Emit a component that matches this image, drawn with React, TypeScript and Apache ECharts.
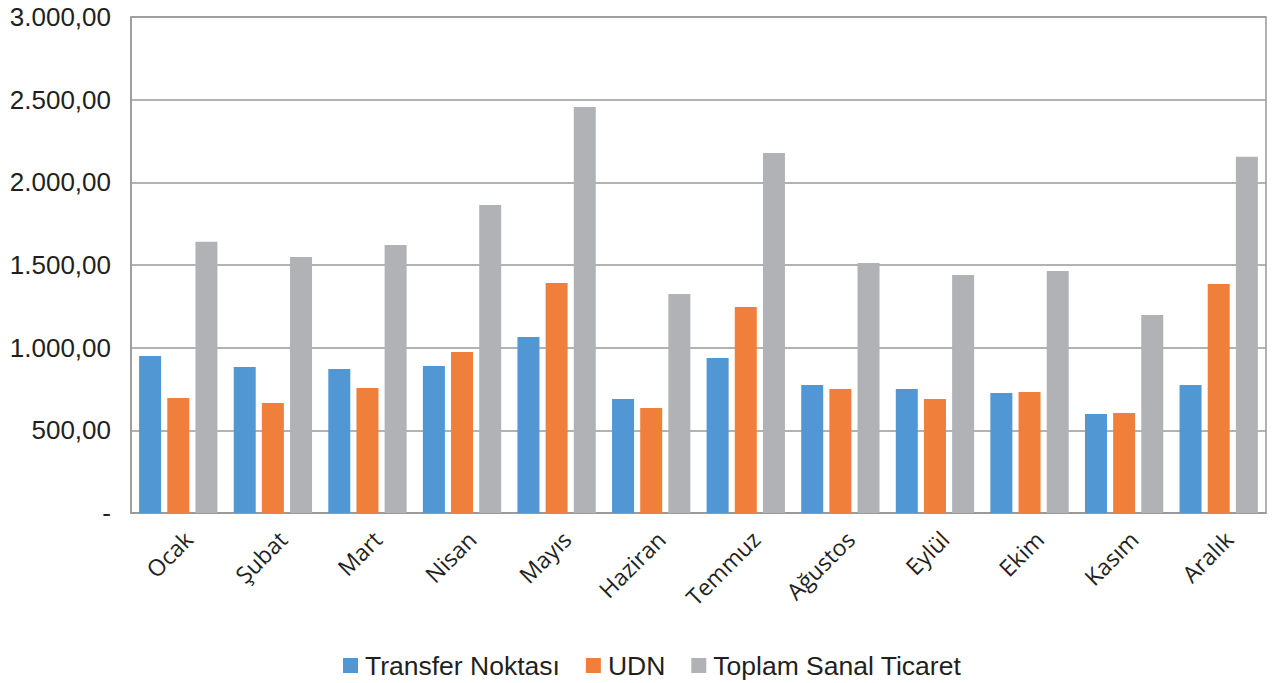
import React, { useEffect, useRef } from "react";
import * as echarts from "echarts";

const categories = ["Ocak", "Şubat", "Mart", "Nisan", "Mayıs", "Haziran", "Temmuz", "Ağustos", "Eylül", "Ekim", "Kasım", "Aralık"];
const transferNoktasi = [950, 883, 871, 889, 1065, 690, 938, 774, 750, 726, 599, 774];
const udn = [696, 665, 756, 974, 1391, 635, 1246, 750, 690, 732, 605, 1385];
const toplamSanalTicaret = [1640, 1549, 1621, 1863, 2456, 1325, 2178, 1512, 1440, 1464, 1198, 2154];
const seriesNames = ["Transfer Noktası", "UDN", "Toplam Sanal Ticaret"];
const colors = ["#5097d3", "#f07f3c", "#b1b2b5"];

function fmt(v: number): string {
  if (v === 0) return "-";
  const s = v.toFixed(2).split(".");
  const int = s[0].replace(/\B(?=(\d{3})+(?!\d))/g, ".");
  return int + "," + s[1];
}

export default function App() {
  const ref = useRef<HTMLDivElement>(null);
  useEffect(() => {
    if (!ref.current) return;
    const chart = echarts.init(ref.current, undefined, { renderer: "svg" });
    const data = [transferNoktasi, udn, toplamSanalTicaret];
    chart.setOption({
      animation: false,
      color: colors,
      grid: { left: 131, right: 6, top: 17, bottom: 170, show: true, borderColor: "#999", borderWidth: 1.5 },
      legend: {
        top: 647,
        left: 338,
        itemWidth: 15,
        itemHeight: 15,
        itemGap: 26,
        icon: "rect",
        textStyle: { fontFamily: "Liberation Sans", fontSize: 26.5, color: "#231f20", padding: [0, 0, 0, 2] },
        data: seriesNames,
      },
      xAxis: {
        type: "category",
        data: categories,
        axisLine: { show: true, lineStyle: { color: "#999", width: 1.5 } },
        axisTick: { show: false },
        axisLabel: {
          rotate: 45,
          interval: 0,
          fontFamily: "Open Sans",
          fontSize: 23,
          color: "#231f20",
          margin: 32,
          padding: [0, -14, 0, 0],
        },
      },
      yAxis: {
        type: "value",
        min: 0,
        max: 3000,
        interval: 500,
        axisLine: { show: true, lineStyle: { color: "#999", width: 1.5 } },
        splitLine: { lineStyle: { color: "#999", width: 1.5 } },
        axisLabel: {
          formatter: (v: number) => fmt(v),
          fontFamily: "Liberation Sans",
          fontSize: 26,
          color: "#231f20",
          margin: 20,
        },
      },
      series: data.map((d, i) => ({
        name: seriesNames[i],
        type: "bar",
        data: d,
        barWidth: 22,
        barGap: "28%",
        itemStyle: { color: colors[i] },
      })),
    });
    return () => chart.dispose();
  }, []);
  return <div ref={ref} style={{ width: 1272, height: 683, position: "absolute", left: 0, top: 0, background: "#fff" }} />;
}
